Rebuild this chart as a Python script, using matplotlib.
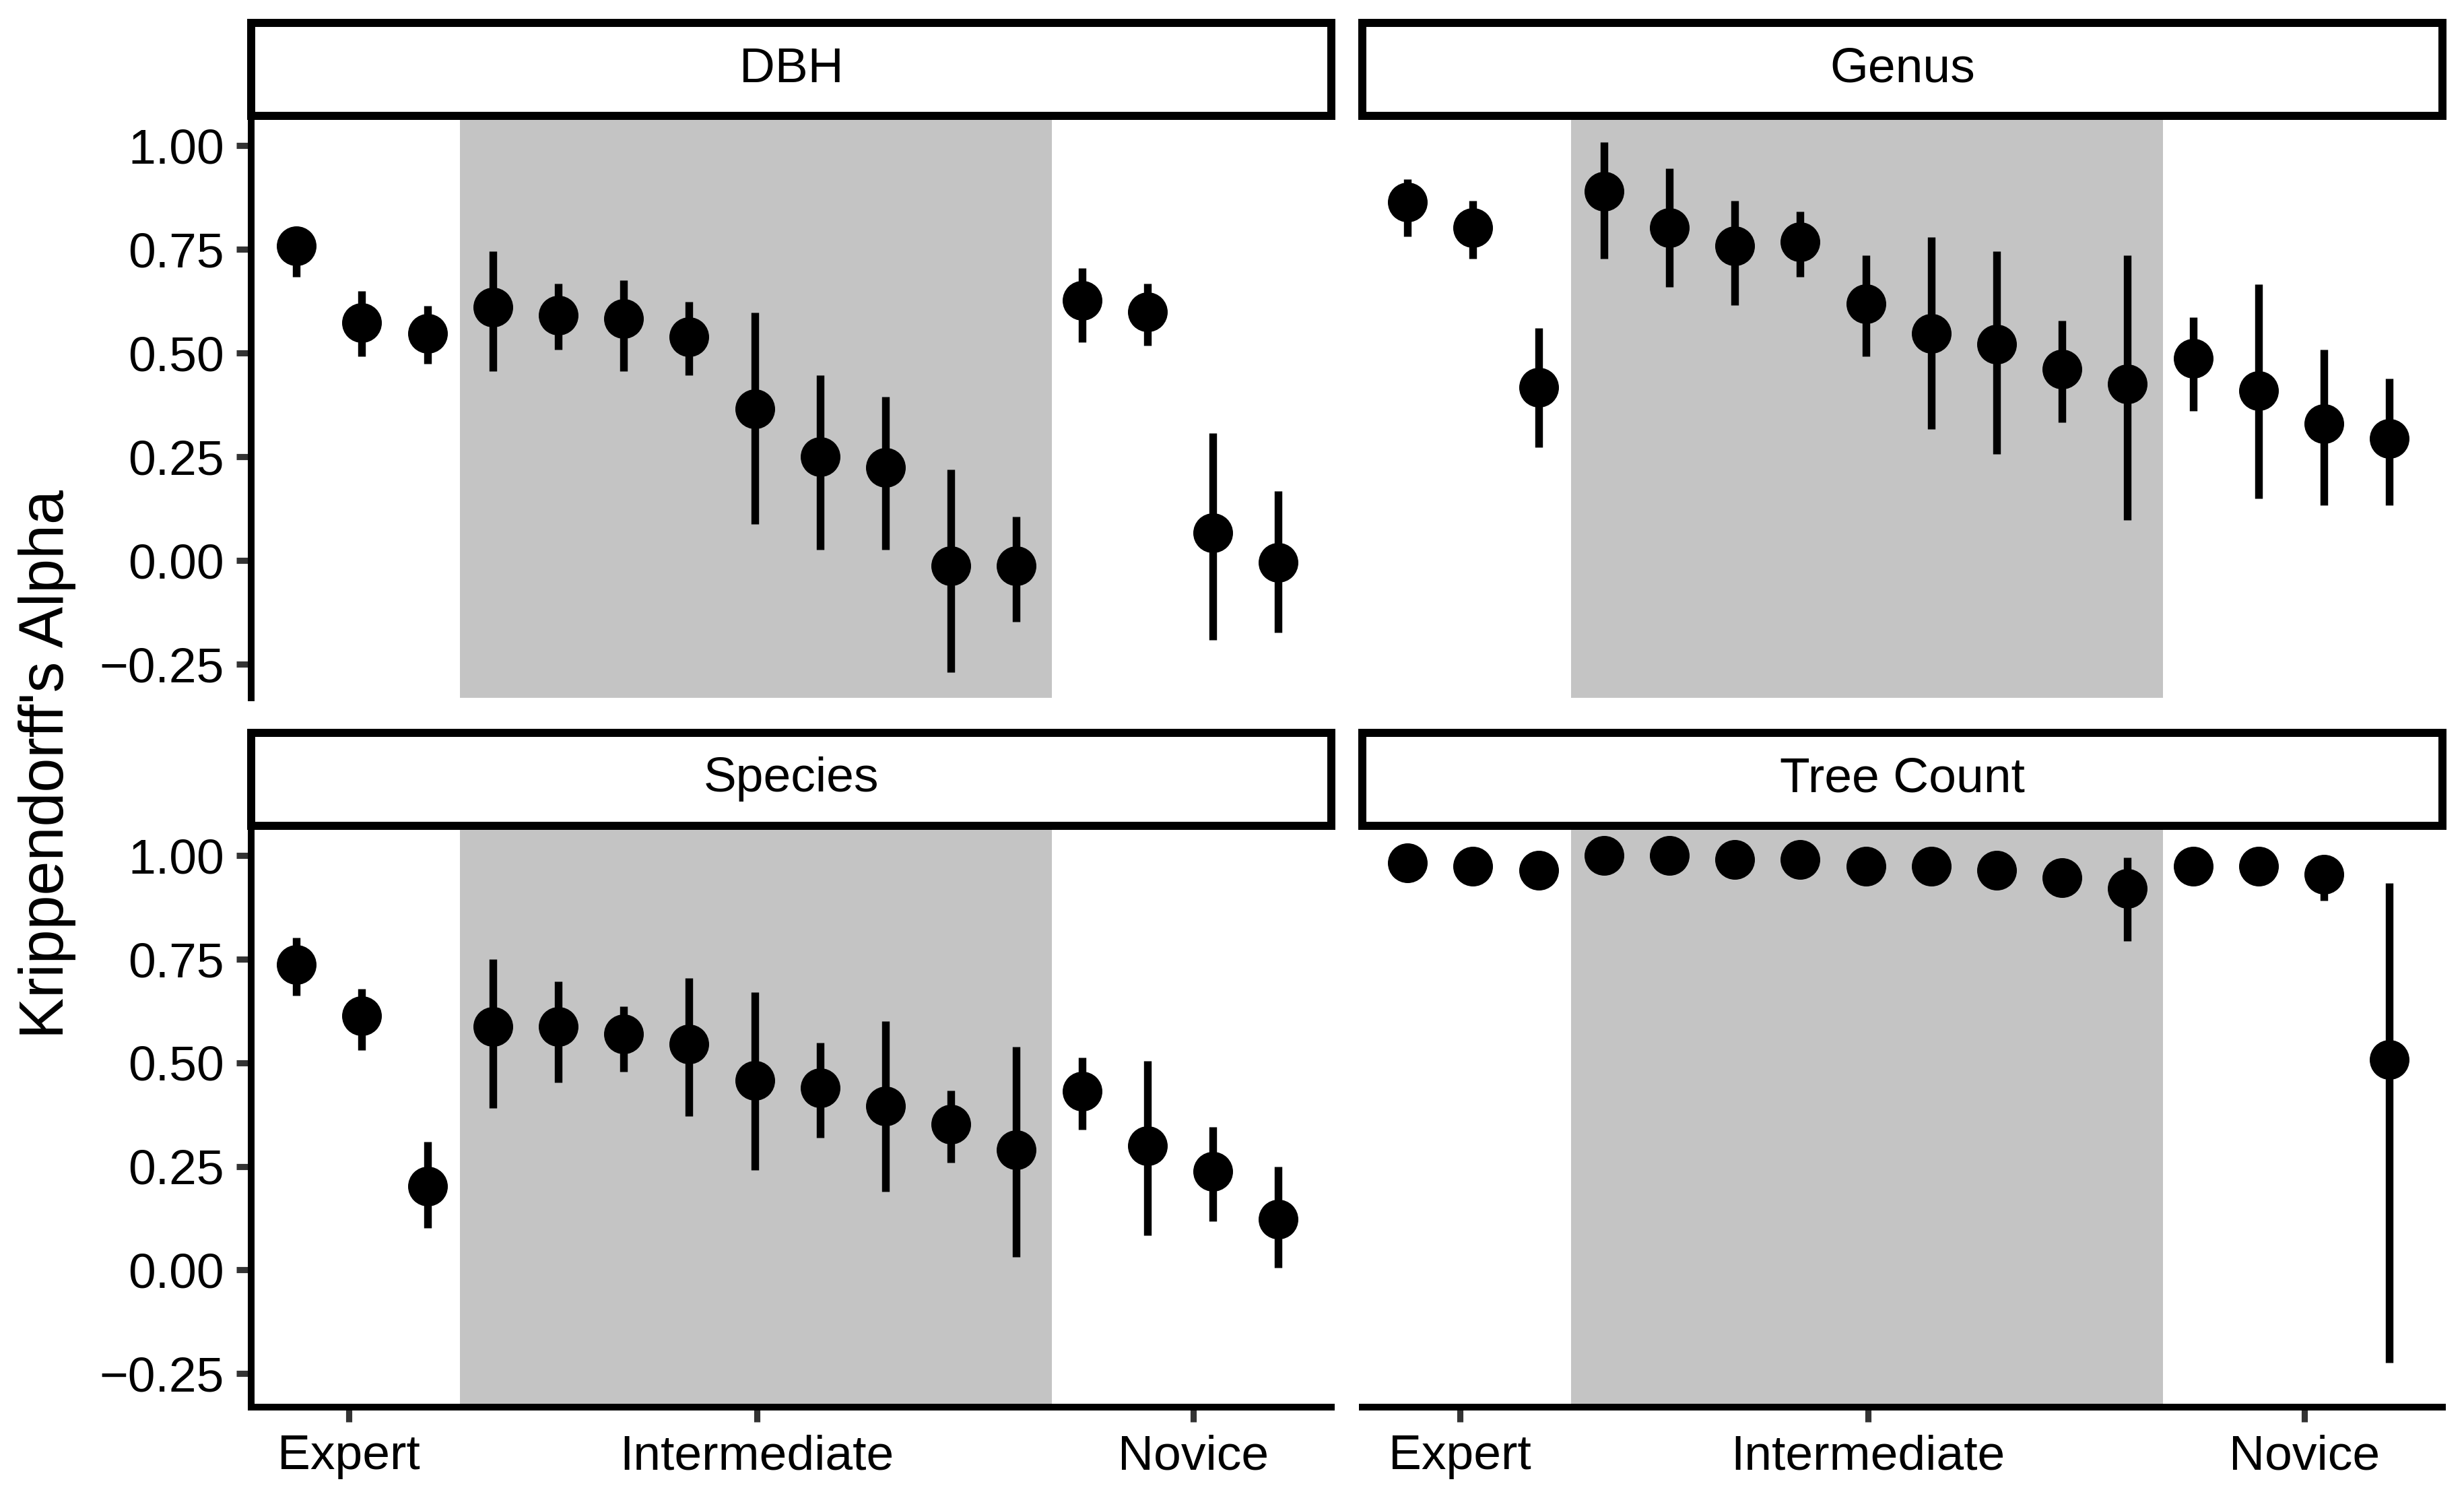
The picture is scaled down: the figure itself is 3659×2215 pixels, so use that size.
import matplotlib
matplotlib.use("Agg")
import matplotlib.pyplot as plt
import numpy as np

plt.rcParams['font.family'] = ['Liberation Sans', 'DejaVu Sans']

# ---------------- data ----------------
facets = ["DBH", "Genus", "Species", "Tree Count"]
rater_pos = list(range(1, 17))          # 16 raters per facet
group_labels = ["Expert", "Intermediate", "Novice"]
group_ticks = [1.8, 8.03, 14.7]
intermediate_span = (3.5, 12.54)

dbh_est = [0.759, 0.574, 0.547, 0.610, 0.592, 0.583, 0.539, 0.365, 0.250, 0.224, -0.012, -0.012, 0.627, 0.600, 0.066, -0.004]
dbh_lo  = [0.684, 0.492, 0.475, 0.456, 0.509, 0.456, 0.447, 0.088, 0.027, 0.027, -0.270, -0.148, 0.526, 0.518, -0.191, -0.174]
dbh_hi  = [0.790, 0.649, 0.614, 0.745, 0.667, 0.675, 0.623, 0.597, 0.447, 0.394, 0.219, 0.106, 0.705, 0.667, 0.307, 0.167]

genus_est = [0.864, 0.802, 0.418, 0.890, 0.802, 0.759, 0.768, 0.619, 0.548, 0.522, 0.462, 0.425, 0.488, 0.409, 0.330, 0.294]
genus_lo  = [0.781, 0.728, 0.273, 0.728, 0.659, 0.615, 0.684, 0.492, 0.317, 0.256, 0.333, 0.097, 0.361, 0.150, 0.133, 0.133]
genus_hi  = [0.920, 0.867, 0.561, 1.008, 0.946, 0.867, 0.841, 0.736, 0.780, 0.745, 0.578, 0.736, 0.587, 0.666, 0.508, 0.438]

species_est = [0.737, 0.614, 0.203, 0.588, 0.588, 0.570, 0.545, 0.457, 0.439, 0.395, 0.352, 0.290, 0.431, 0.299, 0.238, 0.123]
species_lo  = [0.663, 0.530, 0.102, 0.391, 0.452, 0.478, 0.372, 0.241, 0.320, 0.189, 0.259, 0.031, 0.338, 0.084, 0.118, 0.005]
species_hi  = [0.802, 0.679, 0.310, 0.750, 0.697, 0.636, 0.705, 0.670, 0.548, 0.600, 0.433, 0.539, 0.513, 0.504, 0.346, 0.249]

count_est = [0.982, 0.974, 0.965, 1.000, 1.000, 0.991, 0.991, 0.974, 0.974, 0.965, 0.947, 0.921, 0.974, 0.974, 0.955, 0.507]
count_lo  = [0.960, 0.950, 0.940, 0.990, 0.990, 0.970, 0.970, 0.950, 0.950, 0.940, 0.920, 0.794, 0.950, 0.950, 0.891, -0.223]
count_hi  = [1.000, 0.990, 0.985, 1.000, 1.000, 1.000, 1.000, 0.990, 0.990, 0.985, 0.970, 0.996, 0.990, 0.990, 0.980, 0.933]

series = {
    "DBH": (dbh_est, dbh_lo, dbh_hi),
    "Genus": (genus_est, genus_lo, genus_hi),
    "Species": (species_est, species_lo, species_hi),
    "Tree Count": (count_est, count_lo, count_hi),
}
y_ticks = [-0.25, 0.0, 0.25, 0.5, 0.75, 1.0]

# ---------------- layout ----------------
W, H = 3659, 2215
DPI = 600
fig = plt.figure(figsize=(W / DPI, H / DPI), dpi=DPI)
fig.patch.set_facecolor("white")

def add_px_axes(x0, y0, x1, y1):
    return fig.add_axes([x0 / W, 1 - y1 / H, (x1 - x0) / W, (y1 - y0) / H])

col_x = [(373, 1977), (2023, 3627)]
row_y = [(175, 1036), (1229, 2089)]
strip_y = [(34, 172), (1088, 1226)]

px2pt = 72.0 / DPI
axis_lw = 10 * px2pt
strip_lw = 12 * px2pt
err_lw = 11.4 * px2pt
marker_d = 59 * px2pt

for i, name in enumerate(facets):
    r, c = divmod(i, 2)
    x0, x1 = col_x[c]
    y0, y1 = row_y[r]
    ax = add_px_axes(x0, y0, x1, y1)
    ax.set_facecolor("white")
    ax.set_xlim(0.309, 16.81)
    ax.set_ylim(-0.331, 1.067)
    ax.axvspan(*intermediate_span, color="#C4C4C4", lw=0, zorder=0)

    est, lo, hi = series[name]
    ax.vlines(rater_pos, lo, hi, colors="black", linewidth=err_lw,
              capstyle="butt", zorder=2)
    ax.plot(rater_pos, est, "o", color="black", markersize=marker_d,
            markeredgewidth=0, zorder=3)

    for s in ("top", "right"):
        ax.spines[s].set_visible(False)
    ax.spines["left"].set_visible(c == 0)
    ax.spines["bottom"].set_visible(r == 1)
    for s in ("left", "bottom"):
        ax.spines[s].set_linewidth(axis_lw)
        ax.spines[s].set_color("black")

    ax.tick_params(direction="out", length=2.64, width=1.1, color="#333333",
                   labelsize=8.8, labelcolor="black", pad=2.2)
    if c == 0:
        ax.set_yticks(y_ticks)
        ax.set_yticklabels([f"{v:.2f}".replace("-", "\u2212") for v in y_ticks])
    else:
        ax.set_yticks([])
    if r == 1:
        ax.set_xticks(group_ticks)
        ax.set_xticklabels(group_labels)
    else:
        ax.set_xticks([])

    # strip
    sy0, sy1 = strip_y[r]
    sax = add_px_axes(x0, sy0, x1, sy1)
    sax.set_xticks([])
    sax.set_yticks([])
    sax.set_facecolor("white")
    for s in sax.spines.values():
        s.set_linewidth(strip_lw)
        s.set_color("black")
    sax.text(0.5, 0.5, name, ha="center", va="center", fontsize=8.8,
             color="black", transform=sax.transAxes)

fig.text(70 / W, 1 - 1135 / H, "Krippendorff's Alpha", rotation=90,
         ha="center", va="center", fontsize=11, color="black")

fig.savefig("out.png", dpi=DPI, facecolor="white")
